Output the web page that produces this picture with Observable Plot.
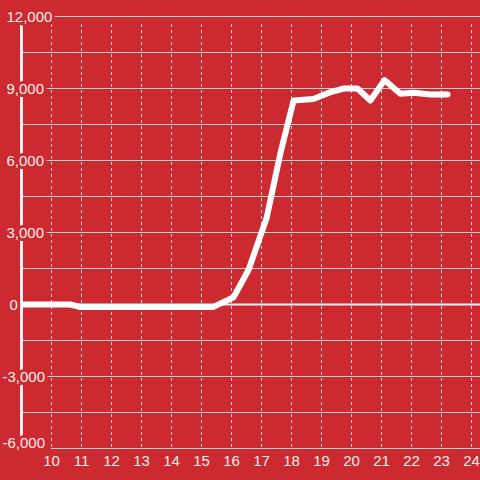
<!DOCTYPE html>
<html><head><meta charset="utf-8">
<script src="https://cdn.jsdelivr.net/npm/d3@7"></script>
<script src="https://cdn.jsdelivr.net/npm/@observablehq/plot@0.6"></script>
<style>html,body{margin:0;padding:0;background:#cc2a30;}</style>
</head><body><div id="chart"></div>
<script>
const hours  = [9, 10.63, 10.93, 15.4, 16.07, 16.57, 17.17, 17.63, 18.07, 18.73, 19.3, 19.75, 20.2, 20.63, 21.1, 21.63, 22.07, 22.63, 23.2];
const values = [0, 0, -100, -100, 300, 1450, 3600, 6300, 8500, 8560, 8850, 9000, 9000, 8500, 9350, 8780, 8820, 8750, 8750];
const xTicks = [10, 11, 12, 13, 14, 15, 16, 17, 18, 19, 20, 21, 22, 23, 24];
const yGrid = [-4500, -3000, -1500, 1500, 3000, 4500, 6000, 7500, 9000, 10500];
const yEdge = [-6000, 12000];
const yPos = [3000, 6000, 9000, 12000];
const yNeg = [-3000];
const yBottom = [-6000];
const yZero = [0];

const data = hours.map((h, i) => ({hour: h, value: values[i]}));
const bg = "#cc2a30", grid = "#cfcfcf", fg = "#f6ecec";
const fmt = d => d.toLocaleString("en-US");
const yLab = (ticks, dx, dy = 1) => Plot.text(ticks, {y: d => d, frameAnchor: "left", textAnchor: "start", dx, dy,
  text: fmt, fill: fg, stroke: bg, strokeWidth: 6, fontSize: 15});

const chart = Plot.plot({
  width: 480, height: 480,
  marginLeft: 21, marginRight: 0, marginTop: 16, marginBottom: 32,
  style: {background: bg, fontFamily: "'Liberation Sans', Arial, sans-serif", fontSize: "15px"},
  x: {domain: [9, 24.3], axis: null},
  y: {domain: [-6000, 12000], axis: null},
  marks: [
    Plot.ruleY(yGrid, {stroke: grid, strokeWidth: 1}),
    Plot.ruleY(yEdge, {x1: 10, x2: 24.3, stroke: grid, strokeWidth: 1}),
    Plot.ruleX(xTicks, {insetTop: 8, stroke: "#dedede", strokeDasharray: "3,3"}),
    Plot.ruleX([9], {insetTop: 8, stroke: "#f2f2f2", strokeWidth: 3}),
    Plot.ruleY(yZero, {stroke: "white", strokeOpacity: 0.9, strokeWidth: 2}),
    Plot.line(data, {x: "hour", y: "value", stroke: "white", strokeWidth: 6}),
    yLab(yPos, -15),
    yLab(yNeg, -19),
    yLab(yBottom, -19, -5),
    yLab(yZero, -12),
    Plot.text(xTicks, {x: d => d, frameAnchor: "bottom", lineAnchor: "top", dy: 7,
      text: d => String(d), fill: fg, fontSize: 15})
  ]
});
document.getElementById("chart").append(chart);
</script>
</body></html>
